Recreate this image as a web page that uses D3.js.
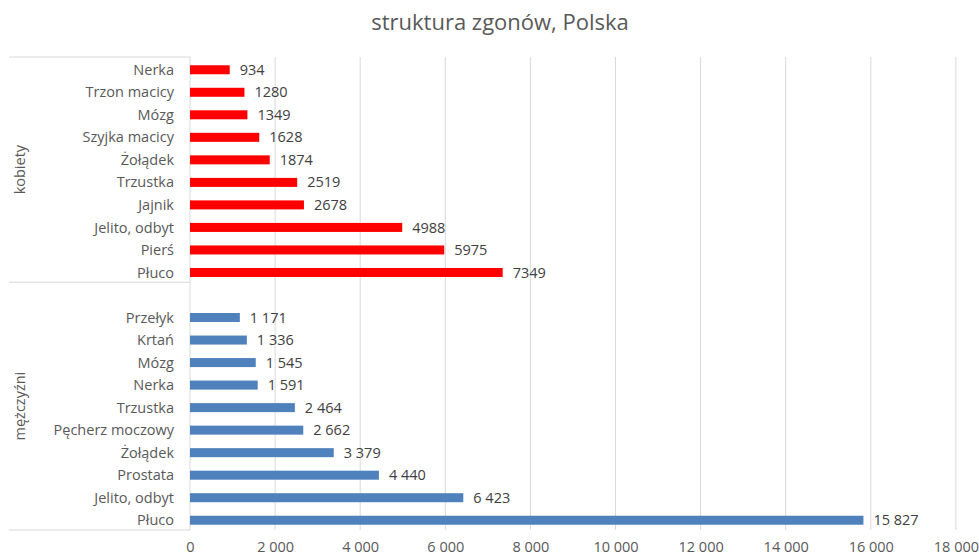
<!DOCTYPE html>
<html>
<head>
<meta charset="utf-8">
<script src="https://cdn.jsdelivr.net/npm/d3@7"></script>
<style>
  body { margin: 0; background: #fff; }
  text { font-family: "Open Sans", "Noto Sans", sans-serif; }
</style>
</head>
<body>
<div id="chart"></div>
<script>
// kobiety (top group, red)
let womenCats = ["Nerka", "Trzon macicy", "Mózg", "Szyjka macicy", "Żołądek", "Trzustka", "Jajnik", "Jelito, odbyt", "Pierś", "Płuco"];
let womenVals = [934, 1280, 1349, 1628, 1874, 2519, 2678, 4988, 5975, 7349];
// mężczyźni (bottom group, blue)
let menCats = ["Przełyk", "Krtań", "Mózg", "Nerka", "Trzustka", "Pęcherz moczowy", "Żołądek", "Prostata", "Jelito, odbyt", "Płuco"];
let menVals = [1171, 1336, 1545, 1591, 2464, 2662, 3379, 4440, 6423, 15827];
let groups = ["kobiety", "mężczyźni"];
let xTicks = [0, 2000, 4000, 6000, 8000, 10000, 12000, 14000, 16000, 18000];

let W = 979, H = 557;
let margin = { top: 57, right: 23, bottom: 27, left: 190 };
let fs = 14.5;

// one row per bar, plus one empty row at the top of the men's group
let rows = [];
womenCats.forEach((c, i) => rows.push({ key: "k" + i, cat: c, val: womenVals[i], g: 0, label: d3.format("d")(womenVals[i]) }));
rows.push({ key: "gap", cat: "", val: null, g: 1 });
menCats.forEach((c, i) => rows.push({ key: "m" + i, cat: c, val: menVals[i], g: 1, label: d3.format(",")(menVals[i]).replace(/,/g, " ") }));

let svg = d3.select("#chart").append("svg")
  .attr("width", W)
  .attr("height", H);

let x = d3.scaleLinear().domain([0, 18000]).range([margin.left, margin.left + 9 * 85.1]);
let y = d3.scaleBand().domain(rows.map(d => d.key)).range([margin.top + 1.5, H - margin.bottom + 1.5]).paddingInner(0.6).paddingOuter(0.3);
let step = y.step();

// title
svg.append("text")
  .attr("x", 500).attr("y", 30)
  .attr("text-anchor", "middle")
  .attr("font-size", 22)
  .attr("fill", "#595959")
  .text("struktura zgonów, Polska");

// gridlines
svg.append("g").selectAll("line")
  .data(xTicks.slice(1))
  .join("line")
  .attr("x1", d => x(d)).attr("x2", d => x(d))
  .attr("y1", margin.top).attr("y2", H - margin.bottom)
  .attr("stroke", "#d9d9d9");

// x tick labels
let xAxis = svg.append("g")
  .attr("transform", `translate(0,${H - margin.bottom})`)
  .call(d3.axisBottom(x).tickValues(xTicks).tickSize(0).tickPadding(12)
    .tickFormat(d => d3.format(",")(d).replace(/,/g, " ")));
xAxis.select(".domain").remove();
xAxis.selectAll("text").attr("font-size", fs).attr("fill", "#595959").style("font-family", "Open Sans");

// category axis line
svg.append("line")
  .attr("x1", x(0)).attr("x2", x(0))
  .attr("y1", margin.top).attr("y2", H - margin.bottom)
  .attr("stroke", "#d9d9d9");

// group separators
let gapIdx = y.domain().indexOf("gap");
let sepY = [margin.top, margin.top + gapIdx * step, H - margin.bottom];
svg.append("g").selectAll("line")
  .data(sepY)
  .join("line")
  .attr("x1", 9).attr("x2", x(0))
  .attr("y1", d => d).attr("y2", d => d)
  .attr("stroke", "#d9d9d9");

// group labels
let groupMid = [(sepY[0] + sepY[1]) / 2, (sepY[1] + sepY[2]) / 2];
svg.append("g").selectAll("text")
  .data(groups)
  .join("text")
  .attr("transform", (d, i) => `translate(25,${groupMid[i]}) rotate(-90)`)
  .attr("text-anchor", "middle")
  .attr("font-size", fs)
  .attr("fill", "#595959")
  .text(d => d);

let bars = rows.filter(d => d.val != null);

// category labels
svg.append("g").selectAll("text")
  .data(bars)
  .join("text")
  .attr("x", 174)
  .attr("y", d => y(d.key) + y.bandwidth() / 2)
  .attr("dy", "0.35em")
  .attr("text-anchor", "end")
  .attr("font-size", fs)
  .attr("fill", "#595959")
  .text(d => d.cat);

// bars
svg.append("g").selectAll("rect")
  .data(bars)
  .join("rect")
  .attr("x", x(0))
  .attr("y", d => y(d.key))
  .attr("width", d => x(d.val) - x(0))
  .attr("height", y.bandwidth())
  .attr("fill", d => d.g === 0 ? "#ff0000" : "#4f81bd");

// value labels
svg.append("g").selectAll("text")
  .data(bars)
  .join("text")
  .attr("x", d => x(d.val) + 10)
  .attr("y", d => y(d.key) + y.bandwidth() / 2)
  .attr("dy", "0.35em")
  .attr("font-size", fs)
  .attr("fill", "#404040")
  .text(d => d.label);
</script>
</body>
</html>
